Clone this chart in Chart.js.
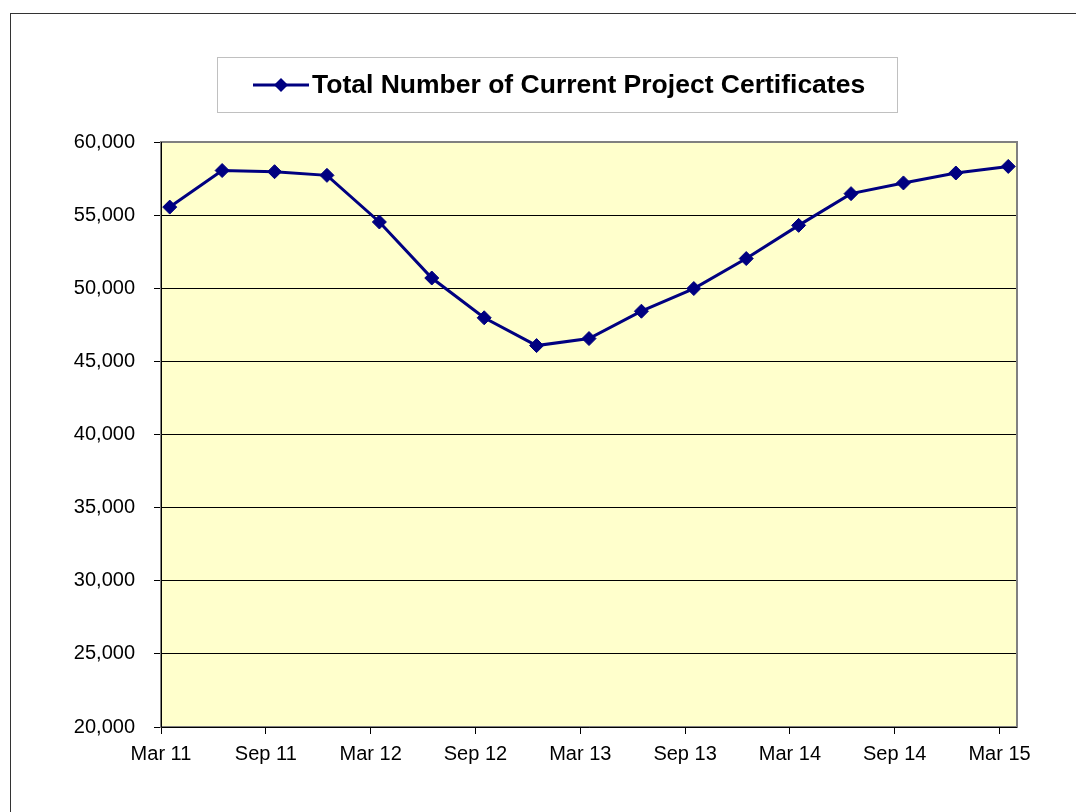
<!DOCTYPE html>
<html>
<head>
<meta charset="utf-8">
<script src="https://cdn.jsdelivr.net/npm/chart.js@4/dist/chart.umd.min.js"></script>
<style>
  html, body { margin: 0; padding: 0; background: #fff; }
  #wrap { width: 1076px; height: 812px; position: relative; }
</style>
</head>
<body>
<div id="wrap"><canvas id="certChart" width="1076" height="812"></canvas></div>
<script>
const seriesLabel = "Total Number of Current Project Certificates";

// quarter ends, Mar 11 .. Mar 15
const quarters = ["Mar 11", "Jun 11", "Sep 11", "Dec 11", "Mar 12", "Jun 12", "Sep 12", "Dec 12",
                  "Mar 13", "Jun 13", "Sep 13", "Dec 13", "Mar 14", "Jun 14", "Sep 14", "Dec 14", "Mar 15"];
const certificates = [55550, 58050, 57970, 57720, 54530, 50700, 47980, 46080,
                      46560, 48430, 49980, 52030, 54300, 56470, 57200, 57880, 58330];
const tickLabels = ["Mar 11", "Sep 11", "Mar 12", "Sep 12", "Mar 13", "Sep 13", "Mar 14", "Sep 14", "Mar 15"];

const navy = "#000080";
const font = "'Liberation Sans', Arial, sans-serif";

// x in months since start of Mar 11, points sit mid-month
const points = certificates.map((v, i) => ({ x: i * 3 + 0.5, y: v }));

const frameAndBackground = {
    id: "frameAndBackground",
    beforeDraw(chart) {
        const ctx = chart.ctx;
        const a = chart.chartArea;
        ctx.save();
        ctx.fillStyle = "#fff";
        ctx.fillRect(0, 0, chart.width, chart.height);
        // outer frame
        ctx.strokeStyle = "#333";
        ctx.lineWidth = 1;
        ctx.strokeRect(10.5, 13.5, chart.width + 20, chart.height + 20);
        // plot background
        ctx.fillStyle = "#FFFFCC";
        ctx.fillRect(a.left, a.top, a.right - a.left, a.bottom - a.top);
        ctx.restore();
    },
    afterDatasetsDraw(chart) {
        const ctx = chart.ctx;
        const a = chart.chartArea;
        ctx.save();
        ctx.strokeStyle = "#808080";
        ctx.lineWidth = 2;
        ctx.strokeRect(a.left, a.top, a.right - a.left, a.bottom - a.top);
        ctx.strokeStyle = "#000";
        ctx.lineWidth = 1;
        ctx.beginPath();
        ctx.moveTo(a.left + 0.5, a.top);
        ctx.lineTo(a.left + 0.5, a.bottom + 0.5);
        ctx.lineTo(a.right, a.bottom + 0.5);
        ctx.stroke();
        ctx.restore();
    },
    afterDraw(chart) {
        // legend box
        const ctx = chart.ctx;
        ctx.save();
        ctx.fillStyle = "#fff";
        ctx.strokeStyle = "#c0c0c0";
        ctx.lineWidth = 1;
        ctx.fillRect(217.5, 57.5, 680, 55);
        ctx.strokeRect(217.5, 57.5, 680, 55);
        ctx.strokeStyle = navy;
        ctx.lineWidth = 3;
        ctx.beginPath();
        ctx.moveTo(253, 85);
        ctx.lineTo(309, 85);
        ctx.stroke();
        ctx.fillStyle = navy;
        ctx.beginPath();
        ctx.moveTo(281, 78);
        ctx.lineTo(288, 85);
        ctx.lineTo(281, 92);
        ctx.lineTo(274, 85);
        ctx.closePath();
        ctx.fill();
        ctx.fillStyle = "#000";
        ctx.font = "bold 26.5px " + font;
        ctx.textBaseline = "middle";
        ctx.fillText(chart.data.datasets[0].label, 312, 86);
        ctx.restore();
    }
};

new Chart(document.getElementById("certChart").getContext("2d"), {
    type: "line",
    data: {
        datasets: [{
            label: seriesLabel,
            data: points,
            borderColor: navy,
            backgroundColor: navy,
            borderWidth: 3,
            pointStyle: "rectRot",
            pointRadius: 7,
            pointBorderWidth: 1,
            pointBorderColor: navy,
            pointBackgroundColor: navy,
            tension: 0
        }]
    },
    options: {
        responsive: false,
        animation: false,
        devicePixelRatio: 1,
        layout: { padding: { left: 0, top: 142, right: 59, bottom: 0 } },
        plugins: {
            legend: { display: false },
            tooltip: { enabled: false }
        },
        scales: {
            x: {
                type: "linear",
                min: 0,
                max: 49,
                afterFit: s => { s.height = 85; },
                border: { display: false },
                grid: { drawOnChartArea: false, drawTicks: true, tickLength: 7, color: "#000", lineWidth: 1 },
                ticks: {
                    stepSize: 6,
                    includeBounds: false,
                    autoSkip: false,
                    maxRotation: 0,
                    padding: 8,
                    color: "#000",
                    font: { family: font, size: 20 },
                    callback: v => tickLabels[v / 6] || ""
                }
            },
            y: {
                min: 20000,
                max: 60000,
                afterFit: s => { s.width = 161; },
                border: { display: false },
                grid: { color: "#000", lineWidth: 1, tickLength: 7 },
                ticks: {
                    stepSize: 5000,
                    padding: 19,
                    color: "#000",
                    font: { family: font, size: 20 },
                    callback: v => v.toLocaleString("en-US")
                }
            }
        }
    },
    plugins: [frameAndBackground]
});
</script>
</body>
</html>
